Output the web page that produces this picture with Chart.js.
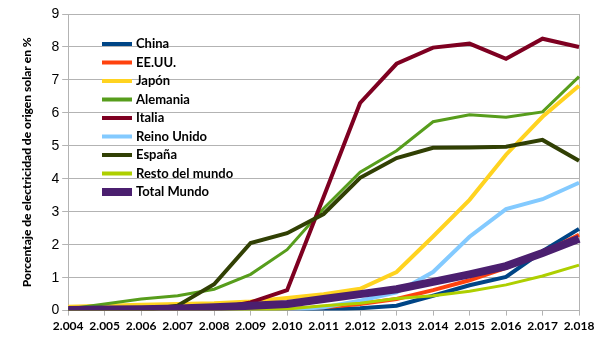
<!DOCTYPE html>
<html>
<head>
  <title>Electricidad solar</title>
  <script src="https://cdn.jsdelivr.net/npm/chart.js"></script>
</head>
<body style="margin: 0; background: white;">
  <canvas id="solarChart" width="605" height="340"></canvas>
  <script>
    const years = ['2.004', '2.005', '2.006', '2.007', '2.008', '2.009', '2.010', '2.011', '2.012', '2.013', '2.014', '2.015', '2.016', '2.017', '2.018'];
    const china = [0, 0, 0, 0, 0, 0, 0, 0.02, 0.07, 0.15, 0.45, 0.77, 1.02, 1.8, 2.48];
    const eeuu = [0, 0, 0, 0, 0, 0.02, 0.05, 0.1, 0.2, 0.35, 0.62, 0.92, 1.3, 1.75, 2.3];
    const japon = [0.12, 0.15, 0.18, 0.2, 0.22, 0.28, 0.38, 0.5, 0.66, 1.17, 2.25, 3.36, 4.73, 5.88, 6.82];
    const alemania = [0.05, 0.2, 0.35, 0.45, 0.65, 1.1, 1.85, 3.1, 4.2, 4.85, 5.73, 5.94, 5.87, 6.03, 7.1];
    const italia = [0, 0, 0, 0, 0.05, 0.25, 0.62, 3.45, 6.3, 7.49, 7.98, 8.1, 7.64, 8.25, 8.0];
    const reinoUnido = [0, 0, 0, 0, 0, 0, 0.02, 0.1, 0.3, 0.55, 1.17, 2.24, 3.08, 3.38, 3.88];
    const espana = [0, 0, 0, 0.15, 0.8, 2.05, 2.35, 2.93, 4.03, 4.63, 4.94, 4.95, 4.97, 5.18, 4.55];
    const resto = [0, 0, 0, 0, 0, 0, 0.05, 0.15, 0.22, 0.37, 0.45, 0.59, 0.78, 1.05, 1.38];
    const totalMundo = [0.02, 0.03, 0.04, 0.06, 0.1, 0.15, 0.2, 0.35, 0.5, 0.65, 0.87, 1.1, 1.35, 1.75, 2.18];

    const series = [
      { label: 'China', data: china, color: '#004586', w: 4 },
      { label: 'EE.UU.', data: eeuu, color: '#ff420e', w: 4 },
      { label: 'Japón', data: japon, color: '#ffd320', w: 4 },
      { label: 'Alemania', data: alemania, color: '#579d1c', w: 3 },
      { label: 'Italia', data: italia, color: '#7e0021', w: 4 },
      { label: 'Reino Unido', data: reinoUnido, color: '#83caff', w: 4 },
      { label: 'España', data: espana, color: '#314004', w: 4 },
      { label: 'Resto del mundo', data: resto, color: '#aecf00', w: 3 },
      { label: 'Total Mundo', data: totalMundo, color: '#4b1f6f', w: 8 }
    ];

    // legend drawn inside the plot, like the original
    const innerLegend = {
      id: 'innerLegend',
      afterDatasetsDraw(chart) {
        const ctx = chart.ctx;
        ctx.save();
        ctx.font = 'bold 13px Lato';
        ctx.textBaseline = 'middle';
        chart.data.datasets.forEach((ds, i) => {
          const y = 44 + i * 18.5;
          ctx.fillStyle = ds.borderColor;
          const h = ds.borderWidth >= 8 ? 8 : 4;
          ctx.fillRect(102, y - h / 2, 30, h);
          ctx.fillStyle = '#000';
          ctx.fillText(ds.label, 136, y);
        });
        ctx.restore();
      }
    };

    new Chart(document.getElementById('solarChart'), {
      type: 'line',
      data: {
        labels: years,
        datasets: series.map((s, i) => ({
          label: s.label,
          data: s.data,
          borderColor: s.color,
          backgroundColor: s.color,
          borderWidth: s.w,
          pointRadius: 0,
          tension: 0,
          order: s.label === 'Total Mundo' ? 0 : 10 - i
        }))
      },
      options: {
        responsive: false,
        animation: false,
        layout: { padding: { left: 18, right: 26, top: 14, bottom: 4 } },
        plugins: { legend: { display: false }, tooltip: { enabled: false } },
        scales: {
          x: {
            offset: false,
            grid: {
              color: ctx => ctx.index === years.length - 1 ? '#b3b3b3' : 'rgba(0,0,0,0)',
              tickColor: '#b3b3b3',
              tickLength: 5
            },
            border: { color: '#b3b3b3' },
            ticks: {
              autoSkip: false,
              maxRotation: 0,
              color: '#000',
              font: { family: 'Lato', weight: 'bold', size: 12 },
              padding: 3
            }
          },
          y: {
            min: 0,
            max: 9,
            grid: { color: '#b3b3b3', tickLength: 6 },
            border: { color: '#b3b3b3' },
            ticks: {
              stepSize: 1,
              color: '#000',
              font: { family: 'Liberation Sans', size: 14 },
              padding: 3
            },
            title: {
              display: true,
              text: 'Porcentaje de electricidad de origen solar en %',
              color: '#000',
              font: { family: 'Lato', weight: 900, size: 12 },
              padding: { top: 2, bottom: 14 }
            }
          }
        }
      },
      plugins: [innerLegend]
    });
  </script>
</body>
</html>
